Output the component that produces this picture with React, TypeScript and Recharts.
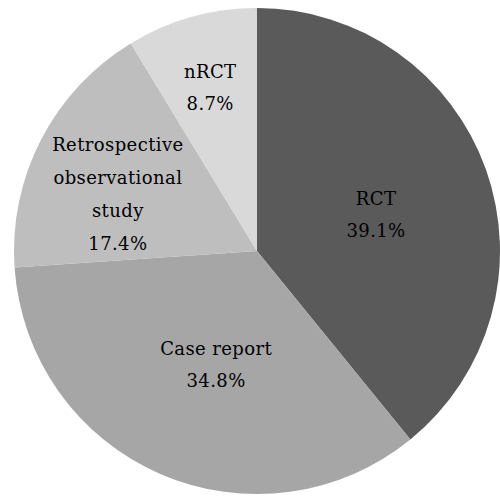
import { PieChart, Pie, Cell } from "recharts";

const categories = ["RCT", "Case report", "Retrospective\nobservational\nstudy", "nRCT"];
const studyCounts = [9, 8, 4, 2];
const sliceColors = ["#5a5a5a", "#a6a6a6", "#bebebe", "#d9d9d9"];
// label placement: share of the radius, and a small turn off the slice's middle (degrees)
const labelRadius = [0.511, 0.502, 0.617, 0.692];
const labelTurn = [-3, 3.9, 5.5, 0.5];

const data = categories.map((name, i) => ({ name, value: studyCounts[i] }));

const RADIAN = Math.PI / 180;
const LINE_H = 32;

const renderLabel = (props: any) => {
  const { cx, cy, midAngle, outerRadius, index, percent } = props;
  const r = outerRadius * labelRadius[index];
  const a = (midAngle + labelTurn[index]) * RADIAN;
  const x = cx + r * Math.cos(-a);
  const y = cy + r * Math.sin(-a) - 1.5;
  const lines = [...categories[index].split("\n"), `${(percent * 100).toFixed(1)}%`];
  const lh = lines.length > 2 ? 33 : LINE_H;
  return (
    <text
      x={x}
      y={y}
      textAnchor="middle"
      fill="#000"
      fontFamily="'DejaVu Serif', serif"
      fontSize={18}
      letterSpacing={0.4}
    >
      {lines.map((line, i) => (
        <tspan key={i} x={x} y={y + (i - (lines.length - 1) / 2) * lh} dominantBaseline="central">
          {line}
        </tspan>
      ))}
    </text>
  );
};

export default function App() {
  return (
    <div style={{ position: "absolute", left: 0, top: 0, width: 500, height: 496, background: "#fff" }}>
      <PieChart width={500} height={496} margin={{ top: 0, right: 0, bottom: 0, left: 0 }}>
        <Pie
          data={data}
          dataKey="value"
          cx={257}
          cy={251}
          outerRadius={243}
          startAngle={90}
          endAngle={-270}
          stroke="none"
          labelLine={false}
          label={renderLabel}
          isAnimationActive={false}
        >
          {data.map((entry, index) => (
            <Cell key={`cell-${index}`} fill={sliceColors[index]} />
          ))}
        </Pie>
      </PieChart>
    </div>
  );
}
